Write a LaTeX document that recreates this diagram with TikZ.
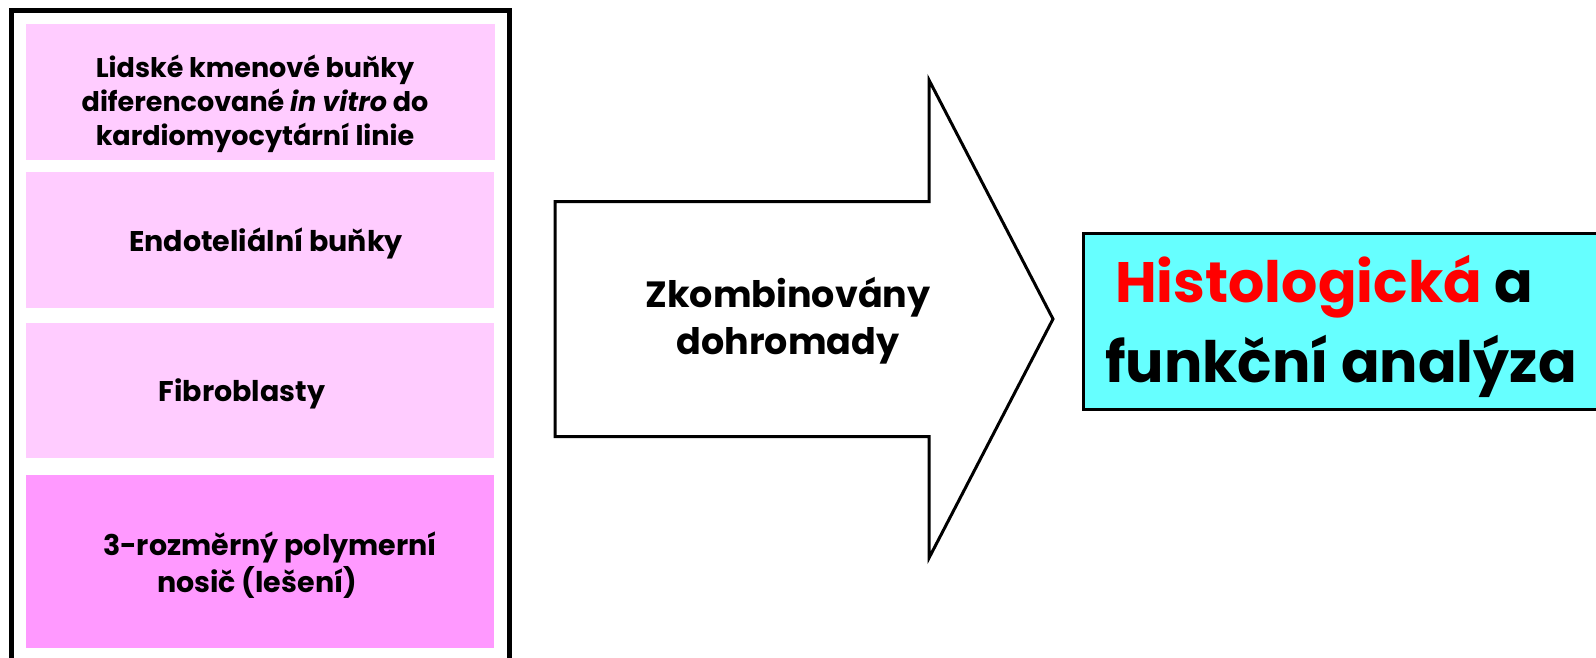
\documentclass[tikz,border=0pt]{standalone}
\usepackage{fontspec}
\setmainfont{Poppins}
\begin{document}
\begin{tikzpicture}[x=1pt,y=-1pt,
  lbox/.style={fill=#1,draw=none,inner sep=0pt,anchor=north west},
  ltext/.style={font=\bfseries\fontsize{28.5}{37}\selectfont,align=center,inner sep=0pt},
  atext/.style={font=\bfseries\fontsize{36.5}{47}\selectfont,align=center,inner sep=0pt},
  rtext/.style={font=\bfseries\fontsize{57}{80}\selectfont,align=left,inner sep=0pt,anchor=west}]
\definecolor{pinklight}{HTML}{FFCCFF}
\definecolor{pinkdark}{HTML}{FF99FF}
\definecolor{cyanbox}{HTML}{66FFFF}
\useasboundingbox (0,0) rectangle (1596,657);
\clip (0,0) rectangle (1596,657);
\fill[white] (0,0) rectangle (1596,657);
% outer frame (open at the bottom)
\draw[line width=4.5pt] (11.5,680) -- (11.5,10.5) -- (509.5,10.5) -- (509.5,680);
% pink boxes
\node[lbox=pinklight,minimum width=469pt,minimum height=136pt] (b1) at (26,24) {};
\node[lbox=pinklight,minimum width=468pt,minimum height=136pt] (b2) at (26,172) {};
\node[lbox=pinklight,minimum width=468pt,minimum height=135pt] (b3) at (26,323) {};
\node[lbox=pinkdark,minimum width=468pt,minimum height=173pt] (b4) at (26,475) {};
\node[ltext,font=\bfseries\fontsize{27}{34}\selectfont] (t1) at (255,104) {Lidské kmenové buňky\\diferencované \textit{in vitro} do\\kardiomyocytární linie};
\node[ltext] (t2) at (266,243) {Endoteliální buňky};
\node[ltext] (t3) at (242,394) {Fibroblasty};
\node[ltext] (t4) at (270,565) {3-rozměrný polymerní\\nosič (lešení)\hspace*{26pt}};
% big arrow
\coordinate (a1) at (555,201.5);
\coordinate (a2) at (929,201.5);
\coordinate (a3) at (929,80);
\coordinate (a4) at (1053,319);
\coordinate (a5) at (929,558);
\coordinate (a6) at (929,436.5);
\coordinate (a7) at (555,436.5);
\draw[line width=3pt,line join=miter,fill=white] (a1) -- (a2) -- (a3) -- (a4) -- (a5) -- (a6) -- (a7) -- cycle;
\node[atext] (at) at (788,321) {Zkombinovány\\dohromady};
% result box
\node[draw,line width=3pt,fill=cyanbox,anchor=north west,minimum width=560pt,minimum height=176pt,inner sep=0pt] (rb) at (1082,232) {};
\node[rtext] (rt) at (1105,326) {\hspace*{10pt}\textcolor{red}{Histologická} a\\funkční analýza};
\end{tikzpicture}
\end{document}
